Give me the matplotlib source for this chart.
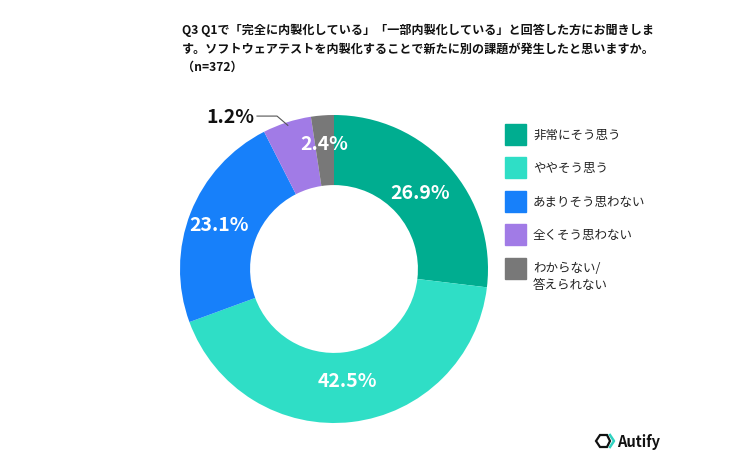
import numpy as np
import matplotlib
matplotlib.use("Agg")
from matplotlib import pyplot as plt
from matplotlib.patches import Rectangle, Polygon

plt.rcParams['font.family'] = ['Noto Sans CJK JP', 'DejaVu Sans']

categories = ['非常にそう思う', 'ややそう思う', 'あまりそう思わない', '全くそう思わない', 'わからない/\n答えられない']
values = [26.9, 42.5, 23.1, 5.1, 2.4]
value_labels = ['26.9%', '42.5%', '23.1%', '1.2%', '2.4%']
colors = ['#00ad90', '#2fdec6', '#1780fa', '#a17be6', '#787878']

title_lines = ['Q3 Q1で「完全に内製化している」「一部内製化している」と回答した方にお聞きしま',
               'す。ソフトウェアテストを内製化することで新たに別の課題が発生したと思いますか。',
               '（n=372）']

W, H = 743, 460
fig = plt.figure(figsize=(W / 100, H / 100), dpi=100)

# donut axes: center (334, 270) px, outer radius 154 px
cx, cy, R = 334, 270, 154
half = 165
ax = fig.add_axes([(cx - half) / W, (H - cy - half) / H, 2 * half / W, 2 * half / H])
wedges, _ = ax.pie(values, colors=colors, startangle=90, counterclock=False,
                   wedgeprops=dict(width=0.455, linewidth=0))
lim = half / R
ax.set_xlim(-lim, lim)
ax.set_ylim(-lim, lim)
ax.set_aspect('equal')
ax.axis('off')

# value labels
total = sum(values)
cum = np.cumsum([0] + values)
label_r = [0.75, 0.73, 0.80, None, 0.82]
for i, lab in enumerate(value_labels):
    mid = 90 - 360 * (cum[i] + cum[i + 1]) / 2 / total
    t = np.deg2rad(mid)
    if label_r[i] is None:
        ex, ey = 0.98 * np.cos(t), 0.98 * np.sin(t)
        bx, by = ex - 0.07, ey + 0.06
        fx = ex - 0.2
        ax.plot([ex, bx, fx], [ey, by, by], color='#555555', lw=0.8, clip_on=False)
        ax.text(fx - 0.02, by, lab, ha='right', va='center', fontsize=14,
                fontweight='bold', color='#111111')
    else:
        r = label_r[i]
        ax.text(r * np.cos(t), r * np.sin(t), lab, ha='center', va='center',
                fontsize=14, fontweight='bold', color='white')

# title
for k, line in enumerate(title_lines):
    fig.text(182 / W, 1 - (30.5 + 18.5 * k) / H, line, ha='left', va='center',
             fontsize=8.7, fontweight='bold', color='#111111')

# legend
for i, cat in enumerate(categories):
    yc = 135 + 33.5 * i
    fig.patches.append(Rectangle((505 / W, 1 - (yc + 10.5) / H), 21 / W, 21 / H,
                                 transform=fig.transFigure, color=colors[i]))
    if '\n' in cat:
        fig.text(533 / W, 1 - (yc - 7) / H, cat, ha='left', va='top',
                 fontsize=9.0, color='#222222', linespacing=1.4)
    else:
        fig.text(533 / W, 1 - yc / H, cat, ha='left', va='center',
                 fontsize=9.0, color='#222222')

# logo
lx, ly = 596, 442
hexagon = [(lx, ly), (lx + 4, ly - 6), (lx + 11, ly - 6), (lx + 14, ly), (lx + 11, ly + 6), (lx + 4, ly + 6)]
fig.patches.append(Polygon([(x / W, 1 - y / H) for x, y in hexagon], closed=True, fill=False,
                           edgecolor='#111111', lw=1.6, transform=fig.transFigure))
chev = [(lx + 14, ly - 6), (lx + 18, ly), (lx + 14, ly + 6)]
fig.lines.append(plt.Line2D([x / W for x, y in chev], [1 - y / H for x, y in chev],
                            color='#2fd2c0', lw=1.8, transform=fig.transFigure))
fig.text((lx + 21) / W, 1 - ly / H, 'Autify', ha='left', va='center',
         fontsize=10.5, fontweight='bold', color='#111111')

fig.savefig('out.png', dpi=100)
